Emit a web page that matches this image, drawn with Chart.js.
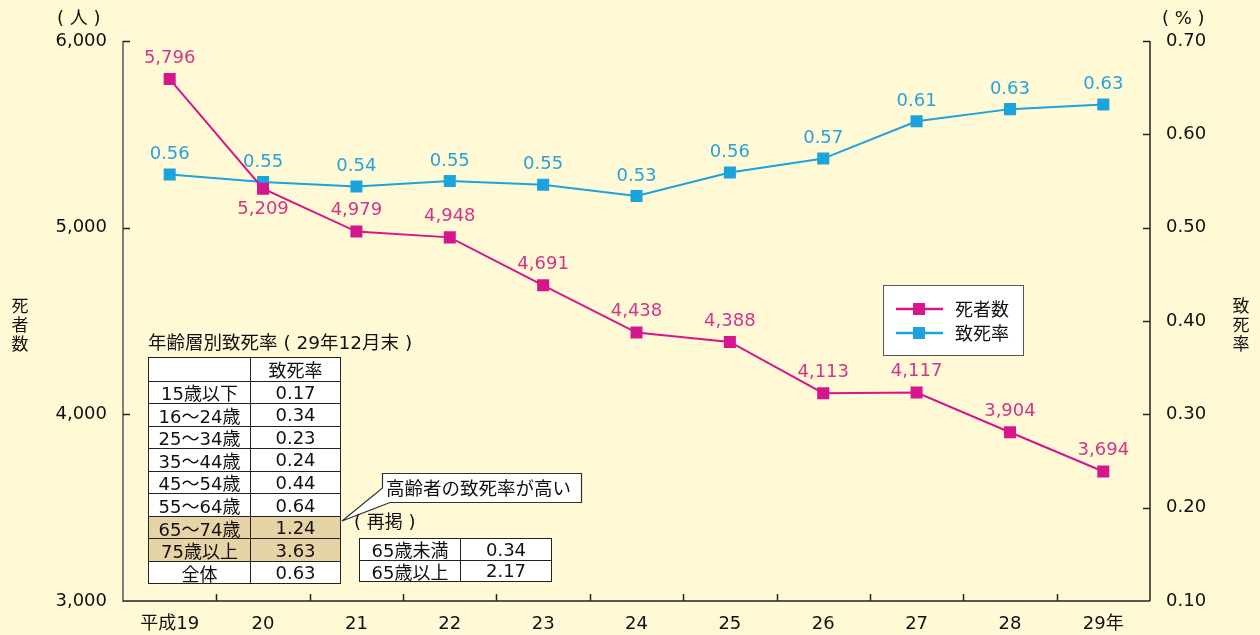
<!DOCTYPE html>
<html><head><meta charset="utf-8">
<script src="https://cdn.jsdelivr.net/npm/chart.js@4.4.1/dist/chart.umd.min.js"></script>
<style>
html,body{margin:0;padding:0;background:#FFF9D6;}
#wrap{position:relative;width:1260px;height:635px;overflow:hidden;background:#FFF9D6;font-family:'DejaVu Sans','Noto Sans CJK JP',sans-serif;color:#111;}
canvas{position:absolute;left:0;top:0;}
.t{position:absolute;white-space:pre;font-size:18px;line-height:1;}
.cell{position:absolute;box-sizing:border-box;border:1px solid #222;display:flex;align-items:center;justify-content:center;font-size:18px;white-space:nowrap;background:#fff;}
.vt{position:absolute;font-size:17px;line-height:19px;width:20px;text-align:center;font-family:'Noto Sans CJK JP',sans-serif;}
</style></head>
<body><div id="wrap"><canvas id="c" width="1260" height="635"></canvas></div>
<script>
// ---- data ----
const years = ['平成19','20','21','22','23','24','25','26','27','28','29年'];
const deaths = [5796,5209,4979,4948,4691,4438,4388,4113,4117,3904,3694];
const fatalityRate = [0.557,0.549,0.544,0.550,0.546,0.534,0.559,0.574,0.614,0.627,0.632];
const deathTicks = [3000,4000,5000,6000];
const rateTicks = [0.10,0.20,0.30,0.40,0.50,0.60,0.70];
const seriesNames = ['死者数','致死率'];
const ageGroups = ['15歳以下','16～24歳','25～34歳','35～44歳','45～54歳','55～64歳','65～74歳','75歳以上','全体'];
const ageRates = ['0.17','0.34','0.23','0.24','0.44','0.64','1.24','3.63','0.63'];
const highlighted = ['65～74歳','75歳以上'];
const regroup = ['65歳未満','65歳以上'];
const regroupRates = ['0.34','2.17'];

const MAG='#D6168C', MAGTXT='#D2358A', BLU='#1AA3DD', BLUTXT='#26A2DC';
const FONT="'DejaVu Sans','Noto Sans CJK JP',sans-serif";

const deco={
  id:'deco',
  afterDraw(chart){
    const ctx=chart.ctx, a=chart.chartArea;
    const x=chart.scales.x, y=chart.scales.y, y2=chart.scales.y2;
    ctx.save();
    ctx.lineCap='butt';
    ctx.strokeStyle='#7d7d7d'; ctx.lineWidth=2;
    ctx.beginPath(); ctx.moveTo(a.left,a.top); ctx.lineTo(a.left,a.bottom+1); ctx.stroke();
    ctx.strokeStyle='#222'; ctx.lineWidth=1.5;
    ctx.beginPath(); ctx.moveTo(a.left,a.bottom); ctx.lineTo(a.right,a.bottom); ctx.stroke();
    ctx.beginPath(); ctx.moveTo(a.right,a.top); ctx.lineTo(a.right,a.bottom); ctx.stroke();
    ctx.lineWidth=1.5; ctx.strokeStyle='#222';
    deathTicks.forEach(v=>{const p=Math.round(y.getPixelForValue(v))+0.5; if(v===3000)return;
      ctx.beginPath(); ctx.moveTo(a.left,p); ctx.lineTo(a.left+7,p); ctx.stroke();});
    rateTicks.forEach(v=>{const p=Math.round(y2.getPixelForValue(v))+0.5; if(Math.abs(v-0.1)<1e-6)return;
      ctx.beginPath(); ctx.moveTo(a.right,p); ctx.lineTo(a.right-7,p); ctx.stroke();});
    for(let i=0;i<years.length-1;i++){
      const p=Math.round((x.getPixelForValue(i)+x.getPixelForValue(i+1))/2)+0.5;
      ctx.beginPath(); ctx.moveTo(p,a.bottom); ctx.lineTo(p,a.bottom-7); ctx.stroke();
    }
    // legend
    const lx=883.5, ly=285.5;
    ctx.fillStyle='#fff'; ctx.fillRect(lx,ly,140,70);
    ctx.strokeStyle='#555'; ctx.lineWidth=1; ctx.strokeRect(lx,ly,140,70);
    [[MAG,309],[BLU,333]].forEach((c,i)=>{
      ctx.strokeStyle=c[0]; ctx.lineWidth=2.5;
      ctx.beginPath(); ctx.moveTo(896,c[1]); ctx.lineTo(943,c[1]); ctx.stroke();
      ctx.fillStyle=c[0]; ctx.fillRect(913,c[1]-6,12,12);
      ctx.fillStyle='#111'; ctx.font="18px 'Noto Sans CJK JP',sans-serif";
      ctx.textAlign='left'; ctx.textBaseline='middle';
      ctx.fillText(seriesNames[i],955,c[1]);
    });
    // data labels
    ctx.font='18px '+FONT; ctx.textAlign='center'; ctx.textBaseline='middle';
    const m0=chart.getDatasetMeta(0), m1=chart.getDatasetMeta(1);
    m0.data.forEach((pt,i)=>{
      ctx.fillStyle=MAGTXT;
      const below = i===1;
      ctx.fillText(deaths[i].toLocaleString('en-US'), pt.x, pt.y + (below?21:-21));
    });
    m1.data.forEach((pt,i)=>{
      ctx.fillStyle=BLUTXT;
      ctx.fillText(fatalityRate[i].toFixed(2), pt.x, pt.y-20);
    });
    ctx.restore();
  }
};

new Chart(document.getElementById('c'),{
  type:'line',
  data:{labels:years,datasets:[
    {label:seriesNames[0],data:deaths,yAxisID:'y',borderColor:MAG,backgroundColor:MAG,borderWidth:2,
     pointStyle:'rect',pointRadius:8.5,pointBorderWidth:0,tension:0},
    {label:seriesNames[1],data:fatalityRate,yAxisID:'y2',borderColor:BLU,backgroundColor:BLU,borderWidth:2,
     pointStyle:'rect',pointRadius:8.5,pointBorderWidth:0,tension:0}
  ]},
  options:{
    responsive:false,animation:false,devicePixelRatio:1,
    layout:{padding:{top:41,left:0,right:0,bottom:0}},
    plugins:{legend:{display:false},tooltip:{enabled:false}},
    scales:{
      x:{offset:true,grid:{display:false,drawTicks:false},border:{display:false},
         ticks:{color:'#111',font:{family:FONT,size:18},padding:13,maxRotation:0,autoSkip:false},
         afterFit(s){s.height=34;}},
      y:{position:'left',min:3000,max:6000,grid:{display:false,drawTicks:false},border:{display:false},
         afterBuildTicks(s){s.ticks=deathTicks.map(v=>({value:v}));},
         ticks:{color:'#111',font:{family:FONT,size:18},padding:16,callback:v=>v.toLocaleString('en-US')},
         afterFit(s){s.width=123;}},
      y2:{position:'right',min:0.1,max:0.7,grid:{display:false,drawTicks:false},border:{display:false},
         afterBuildTicks(s){s.ticks=rateTicks.map(v=>({value:v}));},
         ticks:{color:'#111',font:{family:FONT,size:18},padding:16,callback:v=>Number(v).toFixed(2)},
         afterFit(s){s.width=110;}}
    }
  },
  plugins:[deco]
});

// ---- overlays ----
const wrap=document.getElementById('wrap');
function add(html,cls,style){const d=document.createElement('div');d.className=cls;d.innerHTML=html;Object.assign(d.style,style);wrap.appendChild(d);return d;}
const CJK="'Noto Sans CJK JP',sans-serif";
add('( 人 )','t',{left:'57px',top:'9px'});
add('( % )','t',{left:'1162px',top:'9px'});
add('死<br>者<br>数','vt',{left:'10px',top:'295px'});
add('致<br>死<br>率','vt',{left:'1231px',top:'295px'});
add('年齢層別致死率 ( 29年12月末 )','t',{left:'148px',top:'334px',fontSize:'18.5px'});
// main table
const tx=148, c1=250, c2=341, ty=357, hh=23.5, rh=22.55;
add('','cell',{left:tx+'px',top:ty+'px',width:(c1-tx+1)+'px',height:(hh+1)+'px'});
add('致死率','cell',{left:c1+'px',top:ty+'px',width:(c2-c1)+'px',height:(hh+1)+'px',fontFamily:CJK});
ageGroups.forEach((g,i)=>{
  const top=ty+hh+i*rh, bg=highlighted.includes(g)?'#E6D3A6':'#fff';
  add(g,'cell',{left:tx+'px',top:top+'px',width:(c1-tx+1)+'px',height:(rh+1)+'px',background:bg});
  add(ageRates[i],'cell',{left:c1+'px',top:top+'px',width:(c2-c1)+'px',height:(rh+1)+'px',background:bg});
});
// callout
const svgNS='http://www.w3.org/2000/svg';
const svg=document.createElementNS(svgNS,'svg');
svg.setAttribute('width','1260');svg.setAttribute('height','635');
svg.style.position='absolute';svg.style.left='0';svg.style.top='0';
const path=document.createElementNS(svgNS,'path');
path.setAttribute('d','M382.5,473.5 H581.5 V502.5 H390 L342,521 L382.5,488 Z');
path.setAttribute('fill','#fff');path.setAttribute('stroke','#333');path.setAttribute('stroke-width','1.2');
svg.appendChild(path);wrap.appendChild(svg);
add('高齢者の致死率が高い','t',{left:'386px',top:'478px',fontSize:'18.5px',fontFamily:CJK});
add('( 再掲 )','t',{left:'354px',top:'513px'});
const sx=359, sd=460, sr=552, sy=538, sh=21.5;
regroup.forEach((g,i)=>{
  const top=sy+i*sh;
  add(g,'cell',{left:sx+'px',top:top+'px',width:(sd-sx+1)+'px',height:(sh+1)+'px'});
  add(regroupRates[i],'cell',{left:sd+'px',top:top+'px',width:(sr-sd)+'px',height:(sh+1)+'px'});
});
</script></body></html>
